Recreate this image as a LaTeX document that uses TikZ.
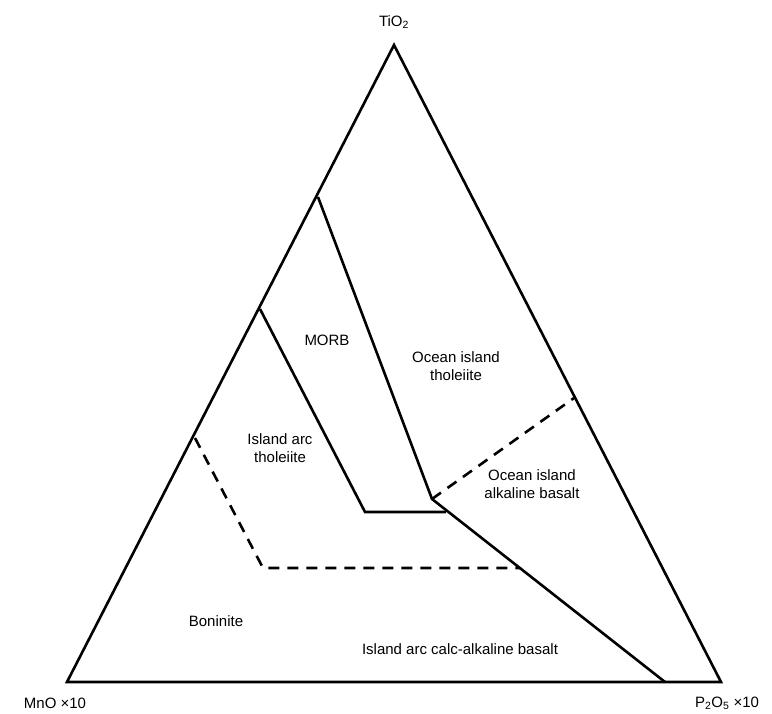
\documentclass[tikz,border=0pt]{standalone}
\usepackage{fontspec}
\setmainfont{Liberation Sans}
\usetikzlibrary{positioning}

\begin{document}
\begin{tikzpicture}[
    x=1pt, y=-1pt,
    edge/.style={line width=2.6pt, line join=miter},
    bound/.style={line width=2.6pt},
    dbound/.style={line width=2.6pt, dash pattern=on 11pt off 8pt},
    lbl/.style={font=\fontsize{15}{18}\selectfont, align=center, inner sep=0pt},
    apex/.style={font=\fontsize{15}{18}\selectfont, inner sep=0pt}
]
\useasboundingbox (0,0) rectangle (772,714);

% Triangle corners
\coordinate (ti) at (394,45);
\coordinate (mn) at (67,682);
\coordinate (p) at (721,682);

% Field boundary points
\coordinate (morbtop) at (318,197);
\coordinate (triple) at (432,499);
\coordinate (iattop) at (260,309);
\coordinate (iatbase) at (365,512);
\coordinate (iatend) at (446,512);
\coordinate (calcend) at (665,682);
\coordinate (oiaend) at (574,398);
\coordinate (bontop) at (195,438);
\coordinate (bonbase) at (263,568);
\coordinate (bonend) at (520,568);

% Outer triangle
\draw[edge] (ti) -- (p) -- (mn) -- cycle;

% Solid boundaries
\draw[bound] (morbtop) -- (triple) -- (calcend);
\draw[bound] (iattop) -- (iatbase) -- (iatend);

% Dashed boundaries
\draw[dbound] (triple) -- (oiaend);
\draw[dbound] (bontop) -- (bonbase) -- (bonend);

% Corner labels
\node[apex, above=16pt of ti] (tilbl) {TiO\textsubscript{2}};
\node[apex] (mnlbl) at (55,703) {MnO ×10};
\node[apex] (plbl) at (727,703) {P\textsubscript{2}O\textsubscript{5} ×10};

% Field labels
\node[lbl] (morb) at (327,340) {MORB};
\node[lbl] (oit) at (456,366) {Ocean island\\tholeiite};
\node[lbl] (iat) at (280,448) {Island arc\\tholeiite};
\node[lbl] (oiab) at (532,484) {Ocean island\\alkaline basalt};
\node[lbl] (bon) at (216,621) {Boninite};
\node[lbl] (iacab) at (460,649) {Island arc calc-alkaline basalt};

\end{tikzpicture}
\end{document}
